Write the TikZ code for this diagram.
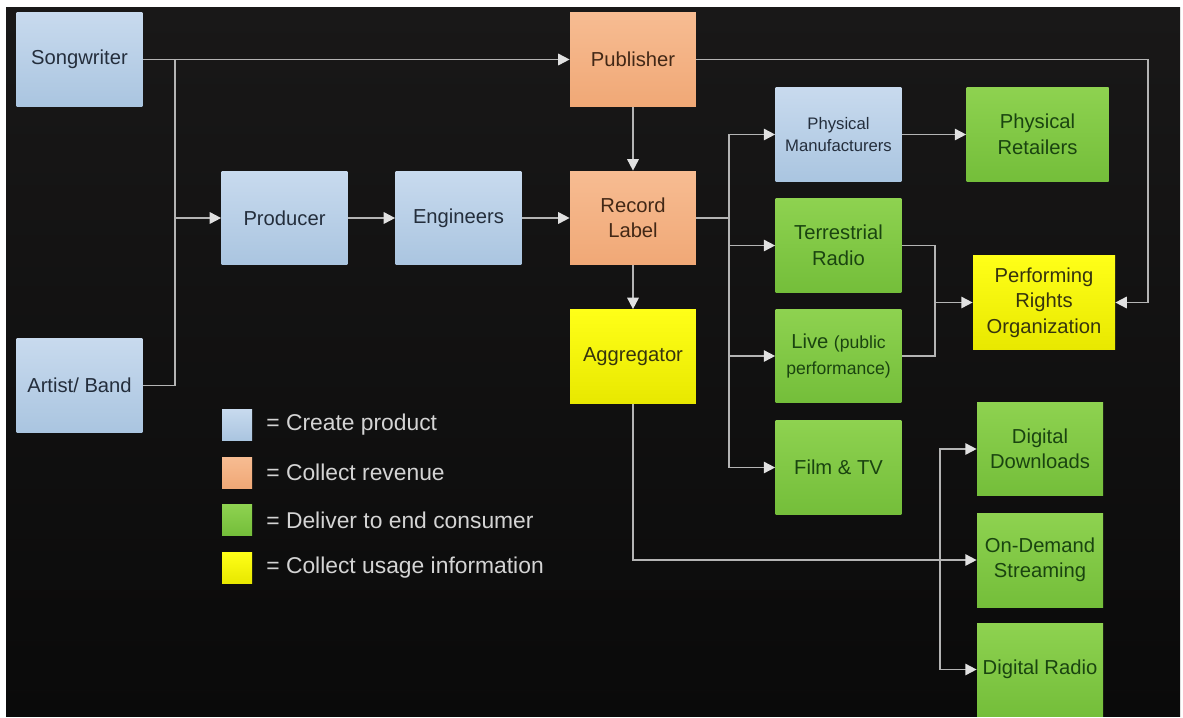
\documentclass[tikz,border=0pt]{standalone}
\usepackage{fontspec}
\setmainfont{Liberation Sans}
\usetikzlibrary{arrows.meta}
\definecolor{bgtop}{RGB}{25,24,24}
\definecolor{bgbot}{RGB}{10,10,10}
\definecolor{blueA}{RGB}{200,218,238}
\definecolor{blueB}{RGB}{170,197,224}
\definecolor{blueT}{RGB}{36,46,60}
\definecolor{orangeA}{RGB}{247,188,146}
\definecolor{orangeB}{RGB}{240,168,118}
\definecolor{orangeT}{RGB}{66,40,22}
\definecolor{greenA}{RGB}{142,210,80}
\definecolor{greenB}{RGB}{116,190,58}
\definecolor{greenT}{RGB}{26,68,16}
\definecolor{yellowA}{RGB}{255,255,24}
\definecolor{yellowB}{RGB}{232,232,0}
\definecolor{yellowT}{RGB}{54,52,14}
\definecolor{linegray}{RGB}{180,180,180}
\definecolor{tipwhite}{RGB}{225,225,225}
\definecolor{legendtext}{RGB}{212,212,212}

\begin{document}
\begin{tikzpicture}[x=0.02cm,y=-0.02cm,
    box/.style={minimum width=2.52cm,minimum height=1.88cm,inner sep=2pt,align=center,
      font=\fontsize{11.5}{14.5}\selectfont},
    wide/.style={minimum width=2.84cm},
    create/.style={box,top color=blueA,bottom color=blueB,text=blueT},
    revenue/.style={box,top color=orangeA,bottom color=orangeB,text=orangeT},
    deliver/.style={box,top color=greenA,bottom color=greenB,text=greenT},
    usage/.style={box,top color=yellowA,bottom color=yellowB,text=yellowT},
    link/.style={draw=linegray,line width=1pt},
    arr/.style={link,-{Triangle[length=6.5pt,width=6.5pt,color=tipwhite]}},
    key/.style={minimum width=0.6cm,minimum height=0.62cm,inner sep=0},
    legend/.style={anchor=west,inner sep=0,text=legendtext,font=\fontsize{13}{15}\selectfont}]

  \useasboundingbox (0,0) rectangle (1183,717);
  \fill[white] (0,0) rectangle (1183,717);
  \fill[top color=bgtop,bottom color=bgbot] (6,7) rectangle (1180,716);

  % boxes
  \node[create] (songwriter) at (79.5,59.5) {Songwriter};
  \node[create] (artist) at (79.5,385.5) {Artist/ Band};
  \node[create] (producer) at (284.5,218) {Producer};
  \node[create] (engineers) at (458.5,218) {Engineers};
  \node[revenue] (publisher) at (633,59.5) {Publisher};
  \node[revenue] (label) at (633,218) {Record\\Label};
  \node[usage] (aggregator) at (633,356.5) {Aggregator};
  \node[create,font=\fontsize{9.5}{12.5}\selectfont] (manuf) at (838.5,134.5) {Physical\\Manufacturers};
  \node[deliver,wide] (retailers) at (1037.5,134.5) {Physical\\Retailers};
  \node[deliver] (terrestrial) at (838.5,245.5) {Terrestrial\\Radio};
  \node[deliver] (live) at (838.5,356) {Live {\fontsize{10}{14.5}\selectfont (public}\\{\fontsize{10}{14.5}\selectfont performance)}};
  \node[deliver] (film) at (838.5,467.5) {Film \& TV};
  \node[usage,wide] (pro) at (1044,302.5) {Performing\\Rights\\Organization};
  \node[deliver] (downloads) at (1040,449) {Digital\\Downloads};
  \node[deliver] (streaming) at (1040,560) {On-Demand\\Streaming};
  \node[deliver,minimum height=1.86cm] (digradio) at (1040,669.5) {Digital Radio};

  % legend
  \node[key,top color=blueA,bottom color=blueB] (k1) at (237,424.5) {};
  \node[key,top color=orangeA,bottom color=orangeB] (k2) at (237,472.5) {};
  \node[key,top color=greenA,bottom color=greenB] (k3) at (237,520) {};
  \node[key,top color=yellowA,bottom color=yellowB] (k4) at (237,567.5) {};
  \node[legend] (t1) at (266,424.5) {= Create product};
  \node[legend] (t2) at (266,472.5) {= Collect revenue};
  \node[legend] (t3) at (266,520) {= Deliver to end consumer};
  \node[legend] (t4) at (266,567.5) {= Collect usage information};

  % connectors
  \coordinate (j1) at (175,59.5);
  \coordinate (j2) at (1148,59.5);
  \coordinate (j3) at (729,134.5);
  \coordinate (j4) at (729,467.5);
  \coordinate (j5) at (935,302.5);
  \coordinate (j6) at (940,560);
  \draw[arr] (songwriter.east) -- (publisher.west);
  \draw[link] (artist.east) -| (j1);
  \draw[arr] (j1 |- producer.west) -- (producer.west);
  \draw[arr] (producer) -- (engineers);
  \draw[arr] (engineers) -- (label);
  \draw[arr] (publisher) -- (label);
  \draw[arr] (label) -- (aggregator);
  \draw[arr] (publisher.east) -- (j2) |- (pro.east);
  \draw[arr] (label.east) -| (j3) -- (manuf.west);
  \draw[arr] (label.east) -| (j4) -- (film.west);
  \draw[arr] (j3 |- terrestrial.west) -- (terrestrial.west);
  \draw[arr] (j3 |- live.west) -- (live.west);
  \draw[arr] (manuf) -- (retailers);
  \draw[link] (terrestrial.east) -| (j5);
  \draw[link] (live.east) -| (j5);
  \draw[arr] (j5) -- (pro.west);
  \draw[arr] (aggregator.south) |- (streaming.west);
  \draw[arr] (j6) |- (downloads.west);
  \draw[arr] (j6) |- (digradio.west);
\end{tikzpicture}
\end{document}
